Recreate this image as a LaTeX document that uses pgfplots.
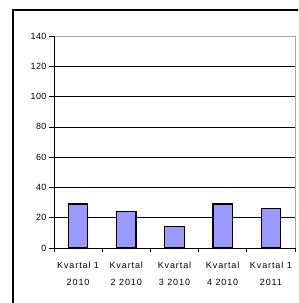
\documentclass[border=0pt]{standalone}
\usepackage{pgfplots}
\pgfplotsset{compat=1.18}
\usepackage{fontspec}
\setmainfont{Liberation Sans}
\definecolor{barblue}{HTML}{9999FF}
\begin{document}
\begin{tikzpicture}[x=1pt,y=1pt]
\useasboundingbox (-54,-55) rectangle (244,248);
\clip (-54,-55) rectangle (244,248);
\draw[black, line width=1.2pt] (-41,-80) rectangle (270,238);
\begin{axis}[
  at={(0,0)}, anchor=south west,
  scale only axis,
  width=241pt, height=212pt,
  xmin=-0.5, xmax=4.5,
  ymin=0, ymax=140,
  ytick={0,20,...,140},
  xtick={0,1,2,3,4},
  xticklabels={{Kvartal 1\\2010},{Kvartal\\2 2010},{Kvartal\\3 2010},{Kvartal\\4 2010},{Kvartal 1\\2011}},
  xticklabel style={align=center, font=\fontsize{9}{17}\selectfont\addfontfeature{LetterSpace=10}},
  yticklabel style={font=\fontsize{9}{10}\selectfont\addfontfeature{LetterSpace=4}},
  /pgf/number format/assume math mode=true,
  major x tick style={draw=none},
  minor xtick={-0.5,0.5,...,4.5},
  minor tick length=4pt,
  major tick length=5pt,
  tick align=outside,
  tick pos=left,
  tick style={black, line width=0.6pt},
  ymajorgrids,
  major grid style={black, line width=0.5pt},
  axis line style={draw=none},
  xticklabel shift=5.5pt,
  yticklabel shift=-1pt,
  clip=false,
]
\addplot[ybar, bar width=19.5pt, fill=barblue, draw=black, line width=1.2pt]
  coordinates {(0,29) (1,24) (2,14) (3,29) (4,26)};
\draw[gray!70, line width=0.8pt] (rel axis cs:0,1) -- (rel axis cs:1,1) -- (rel axis cs:1,0);
\draw[black, line width=0.9pt] (rel axis cs:0,1) -- (rel axis cs:0,0) -- (rel axis cs:1,0);
\end{axis}
\end{tikzpicture}
\end{document}
